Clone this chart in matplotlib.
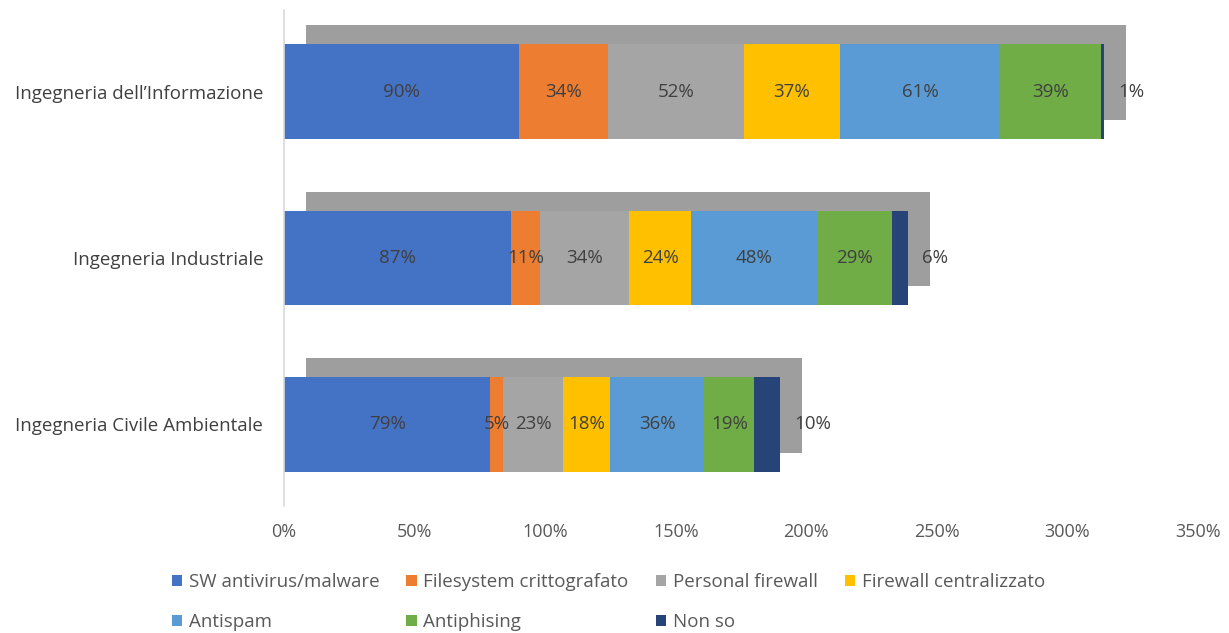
import matplotlib.pyplot as plt
import matplotlib.patheffects as pe
from matplotlib.patches import Patch

plt.rcParams['font.family'] = ['Open Sans', 'DejaVu Sans']

categories = ["Ingegneria dell’Informazione", "Ingegneria Industriale", "Ingegneria Civile Ambientale"]
series_names = ["SW antivirus/malware", "Filesystem crittografato", "Personal firewall",
                "Firewall centralizzato", "Antispam", "Antiphising", "Non so"]
values = [
    [90, 87, 79],   # SW antivirus/malware
    [34, 11, 5],    # Filesystem crittografato
    [52, 34, 23],   # Personal firewall
    [37, 24, 18],   # Firewall centralizzato
    [61, 48, 36],   # Antispam
    [39, 29, 19],   # Antiphising
    [1, 6, 10],     # Non so
]
colors = ["#4472C4", "#ED7D31", "#A5A5A5", "#FFC000", "#5B9BD5", "#70AD47", "#264478"]
xticks = [0, 50, 100, 150, 200, 250, 300, 350]

fig = plt.figure(figsize=(12.29, 6.33), dpi=100)
ax = fig.add_axes([0.2311, 0.2006, 0.7437, 0.7836])

ypos = list(range(len(categories)))
lefts = [0] * len(categories)
# grey drop shadow up-right of each bar (soft halo + solid core)
shadow = [pe.SimplePatchShadow(offset=(15.5, 13.7), shadow_rgbFace=(0.62, 0.62, 0.62), alpha=0.35),
          pe.Stroke(linewidth=0),
          pe.SimplePatchShadow(offset=(15.5, 13.7), shadow_rgbFace=(0.62, 0.62, 0.62), alpha=1.0),
          pe.Normal()]
for i, (name, vals, col) in enumerate(zip(series_names, values, colors)):
    bars = ax.barh(ypos, vals, left=lefts, height=0.57, color=col, zorder=2)
    for b in bars:
        b.set_path_effects(shadow)
    for j, v in enumerate(vals):
        if i == len(series_names) - 1:
            ax.annotate(f"{v}%", (lefts[j] + v, ypos[j]), xytext=(10, 0), textcoords='offset points',
                        ha='left', va='center', fontsize=13.5, color='#404040', zorder=5)
        else:
            ax.text(lefts[j] + v / 2, ypos[j], f"{v}%", ha='center', va='center',
                    fontsize=13.5, color='#404040', zorder=5)
    lefts = [l + v for l, v in zip(lefts, vals)]

ax.set_xlim(0, 350)
ax.set_ylim(2.49, -0.49)
ax.set_yticks(ypos)
ax.set_yticklabels(categories, fontsize=13.5, color='#404040')
ax.set_xticks(xticks)
ax.set_xticklabels([f"{t}%" for t in xticks], fontsize=13, color='#595959')
ax.tick_params(axis='both', length=0)
ax.tick_params(axis='x', pad=12)
ax.tick_params(axis='y', pad=15)
for s in ['top', 'right', 'bottom']:
    ax.spines[s].set_visible(False)
ax.spines['left'].set_color('#D9D9D9')
ax.spines['left'].set_linewidth(1.2)

order = [0, 4, 1, 5, 2, 6, 3]
handles = [Patch(facecolor=colors[k], edgecolor='none') for k in order]
fig.legend(handles, [series_names[k] for k in order],
           loc='lower left', bbox_to_anchor=(0.126, -0.024), ncol=4, frameon=False,
           fontsize=13.5, handlelength=0.55, handleheight=0.55, handletextpad=0.35,
           columnspacing=1.45, labelspacing=1.2, labelcolor='#595959')

plt.savefig("out.png", dpi=100)
